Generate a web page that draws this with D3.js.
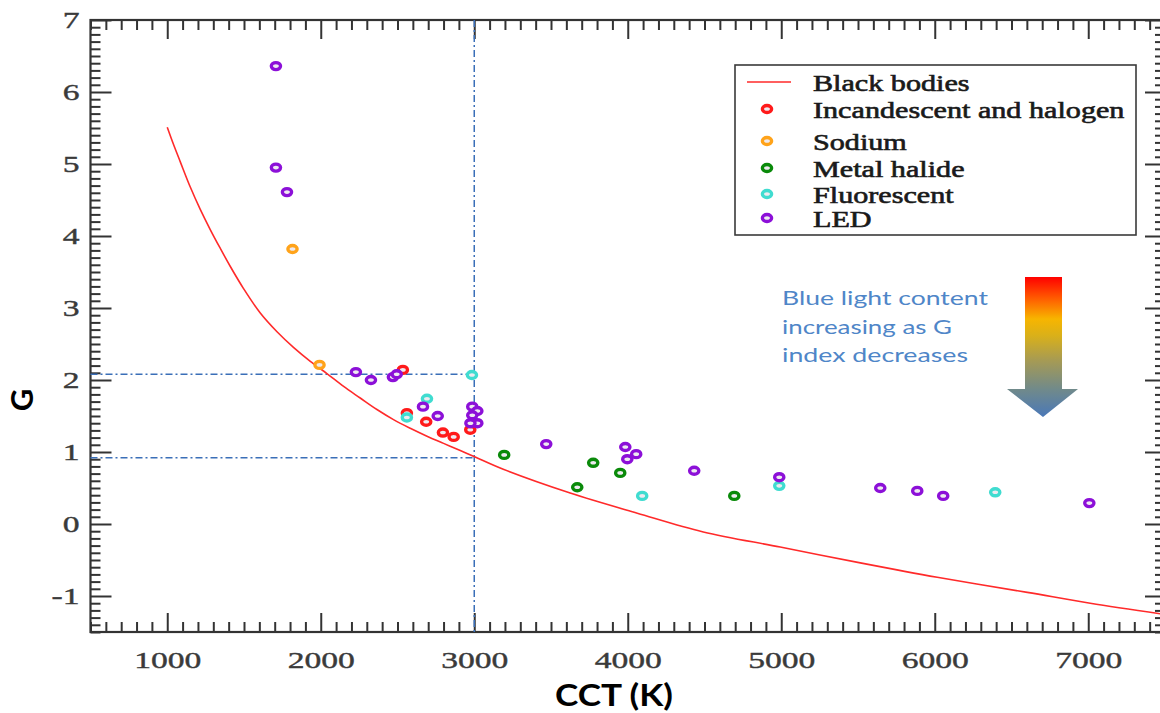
<!DOCTYPE html>
<html>
<head>
<meta charset="utf-8">
<script src="https://cdn.jsdelivr.net/npm/d3@7"></script>
<style>
  body { margin: 0; background: #fff; }
  svg { display: block; }
</style>
</head>
<body>
<svg id="chart" width="1160" height="713"></svg>
<script>
// Axis tick values
const cctTicks = [1000, 2000, 3000, 4000, 5000, 6000, 7000];
const gTicks = [-1, 0, 1, 2, 3, 4, 5, 6, 7];

// Black-body locus: CCT (K) and G index
const blackBodyCCT = [1000, 1041, 1085, 1150, 1215, 1280, 1345, 1410, 1497, 1606, 1715, 1824, 1932, 2040, 2149, 2257, 2366, 2474, 2583, 2692, 2800, 2909, 3006,
                      3189, 3625, 4062, 4492, 4993, 5515, 6016, 6603, 7013, 7480];
const blackBodyG   = [5.51, 5.27, 5.03, 4.68, 4.37, 4.09, 3.83, 3.58, 3.27, 2.93, 2.67, 2.45, 2.26, 2.09, 1.91, 1.75, 1.59, 1.45, 1.33, 1.22, 1.12, 1.02, 0.93,
                      0.76, 0.43, 0.15, -0.11, -0.32, -0.54, -0.74, -0.95, -1.10, -1.25];

// Lamp measurements: [CCT, G]
const incandescent = [[2535, 2.14], [2561, 1.54], [2687, 1.42], [2796, 1.27], [2866, 1.21], [2974, 1.31]];
const sodium = [[1816, 3.82], [1992, 2.21]];
const metalHalide = [[3195, 0.96], [3775, 0.85], [3951, 0.71], [3671, 0.51], [4694, 0.39]];
const fluorescent = [[2985, 2.07], [2692, 1.74], [2561, 1.48], [4094, 0.39], [4987, 0.53], [6394, 0.44]];
const led = [[1708, 6.36], [1708, 4.95], [1780, 4.61], [2229, 2.11], [2327, 2.00], [2470, 2.04], [2495, 2.08],
             [2666, 1.63], [2762, 1.50], [2987, 1.63], [3020, 1.57], [2987, 1.51], [3020, 1.40], [2975, 1.40],
             [3469, 1.11], [3984, 1.07], [4055, 0.97], [3997, 0.90], [4433, 0.74], [4987, 0.65],
             [5645, 0.50], [5886, 0.46], [6055, 0.39], [7007, 0.29]];

// Series names and colours
const seriesNames = ["Incandescent and halogen", "Sodium", "Metal halide", "Fluorescent", "LED"];
const seriesColors = ["#ff1a1a", "#ffa31a", "#0a8a0a", "#40dcd0", "#8c10d8"];
const seriesData = [incandescent, sodium, metalHalide, fluorescent, led];
const curveName = "Black bodies";

// Reference guides
const refCCT = 3000;
const refG = [2.08, 0.92];

const svg = d3.select("#chart");
const plotLeft = 90.5, plotRight = 1165, plotTop = 20, plotBottom = 632;

const x = d3.scaleLinear().domain([500, 7500]).range([plotLeft, plotRight]);
const y = d3.scaleLinear().domain([-1.5, 7]).range([plotBottom, plotTop]);

const serif = "'Liberation Serif', 'Times New Roman', serif";
const frameColor = "#333";

// Horizontally widen text to a given factor of its natural width
function widen(sel, k) {
  sel.each(function () {
    const w = this.getComputedTextLength();
    d3.select(this).attr("textLength", w * k).attr("lengthAdjust", "spacingAndGlyphs");
  });
}

// Minor tick positions
const xMinor = d3.range(500, 7501, 100).filter(v => v % 1000 !== 0);
const yMinor = d3.range(-15, 71, 1).map(v => v / 10).filter(v => Math.abs(v - Math.round(v)) > 1e-9);

function styleAxis(g) {
  g.select(".domain").remove();
  g.selectAll(".tick line").attr("stroke", frameColor).attr("stroke-width", 2);
  g.selectAll(".tick text")
    .attr("fill", "#3a3a3a")
    .attr("stroke", "#3a3a3a")
    .attr("stroke-width", 0.4)
    .style("font-family", serif)
    .style("font-size", "24px");
}

// Left axis
svg.append("g").attr("transform", `translate(${plotLeft},0)`)
  .call(d3.axisLeft(y).tickValues(yMinor).tickSize(-10).tickFormat(""))
  .call(styleAxis);
const yAxisG = svg.append("g").attr("transform", `translate(${plotLeft},0)`)
  .call(d3.axisLeft(y).tickValues(gTicks).tickSize(-21).tickPadding(11).tickFormat(d => String(d)))
  .call(styleAxis);
widen(yAxisG.selectAll(".tick text"), 1.4);

// Right axis
svg.append("g").attr("transform", `translate(${plotRight},0)`)
  .call(d3.axisRight(y).tickValues(yMinor).tickSize(-10).tickFormat(""))
  .call(styleAxis);
svg.append("g").attr("transform", `translate(${plotRight},0)`)
  .call(d3.axisRight(y).tickValues(gTicks).tickSize(-20).tickFormat(""))
  .call(styleAxis);

// Top axis
svg.append("g").attr("transform", `translate(0,${plotTop})`)
  .call(d3.axisTop(x).tickValues(xMinor).tickSize(-10).tickFormat(""))
  .call(styleAxis);
svg.append("g").attr("transform", `translate(0,${plotTop})`)
  .call(d3.axisTop(x).tickValues(cctTicks).tickSize(-19).tickFormat(""))
  .call(styleAxis);

// Bottom axis
svg.append("g").attr("transform", `translate(0,${plotBottom})`)
  .call(d3.axisBottom(x).tickValues(xMinor).tickSize(-10).tickFormat(""))
  .call(styleAxis);
const xAxisG = svg.append("g").attr("transform", `translate(0,${plotBottom})`)
  .call(d3.axisBottom(x).tickValues(cctTicks).tickSize(-19).tickPadding(19).tickFormat(d => String(d)))
  .call(styleAxis);
widen(xAxisG.selectAll(".tick text"), 1.4);

// Frame
svg.append("rect")
  .attr("x", plotLeft).attr("y", plotTop)
  .attr("width", plotRight - plotLeft).attr("height", plotBottom - plotTop)
  .attr("fill", "none").attr("stroke", frameColor).attr("stroke-width", 2.2);

// Dashed reference lines at 3000 K
const guide = svg.append("g")
  .attr("stroke", "#3a6fb8").attr("stroke-width", 1.5)
  .attr("stroke-dasharray", "7,3,2,3").attr("fill", "none");
guide.append("line")
  .attr("x1", x(refCCT)).attr("x2", x(refCCT))
  .attr("y1", plotTop).attr("y2", plotBottom);
refG.forEach(g => {
  guide.append("line")
    .attr("x1", plotLeft).attr("x2", x(refCCT))
    .attr("y1", y(g)).attr("y2", y(g));
});

// Black-body curve
const locus = blackBodyCCT.map((c, i) => [c, blackBodyG[i]]);
svg.append("path")
  .datum(locus)
  .attr("fill", "none")
  .attr("stroke", "#ff2a2a")
  .attr("stroke-width", 1.6)
  .attr("d", d3.line().x(d => x(d[0])).y(d => y(d[1])).curve(d3.curveCatmullRom));

// Lamp markers
function marker(sel, color) {
  sel.attr("rx", 4.6).attr("ry", 3.5)
    .attr("fill", "#eeeaf0")
    .attr("stroke", color)
    .attr("stroke-width", 3.4);
}
seriesData.forEach((data, i) => {
  svg.append("g").selectAll("ellipse")
    .data(data)
    .join("ellipse")
    .attr("cx", d => x(d[0]))
    .attr("cy", d => y(d[1]))
    .call(marker, seriesColors[i]);
});

// Legend
const legend = svg.append("g");
legend.append("rect")
  .attr("x", 735).attr("y", 65).attr("width", 401).attr("height", 170)
  .attr("fill", "#fff").attr("stroke", "#3a3a3a").attr("stroke-width", 1.6);
const rowBase = [91, 118, 150, 177, 203, 227];
legend.append("line")
  .attr("x1", 747).attr("x2", 791)
  .attr("y1", rowBase[0] - 9).attr("y2", rowBase[0] - 9)
  .attr("stroke", "#ff2a2a").attr("stroke-width", 1.6);
seriesNames.forEach((name, i) => {
  legend.append("ellipse")
    .attr("cx", 767).attr("cy", rowBase[i + 1] - 9)
    .call(marker, seriesColors[i]);
});
const legendTexts = legend.selectAll("text.lbl")
  .data([curveName, ...seriesNames])
  .join("text")
  .attr("class", "lbl")
  .attr("x", 813)
  .attr("y", (d, i) => rowBase[i])
  .attr("fill", "#1a1a1a")
  .attr("stroke", "#1a1a1a")
  .attr("stroke-width", 0.6)
  .style("font-family", serif)
  .style("font-size", "22.5px")
  .text(d => d);
widen(legendTexts, 1.34);

// Annotation: blue-light arrow
const defs = svg.append("defs");
const grad = defs.append("linearGradient")
  .attr("id", "arrowGrad").attr("x1", 0).attr("y1", 0).attr("x2", 0).attr("y2", 1);
[[0, "#ff0000"], [0.15, "#ff5a00"], [0.3, "#f7b500"], [0.42, "#d9b01a"], [0.6, "#a59a55"], [0.8, "#718a8a"], [1, "#4a78b8"]]
  .forEach(([o, c]) => grad.append("stop").attr("offset", o).attr("stop-color", c));
svg.append("path")
  .attr("d", "M1025,277 L1062,277 L1062,389 L1078,389 L1043,417 L1007,389 L1025,389 Z")
  .attr("fill", "url(#arrowGrad)");

const noteLines = ["Blue light content", "increasing as G", "index decreases"];
const noteWidths = [206, 170, 186];
svg.append("g").selectAll("text")
  .data(noteLines)
  .join("text")
  .attr("x", 782)
  .attr("y", (d, i) => 305 + i * 28.5)
  .attr("fill", "#4f86c8")
  .style("font-family", "Lato, 'Open Sans', sans-serif")
  .style("font-size", "20px")
  .attr("textLength", (d, i) => noteWidths[i])
  .attr("lengthAdjust", "spacingAndGlyphs")
  .text(d => d);

// Axis titles
svg.append("text")
  .attr("x", 614).attr("y", 706)
  .attr("text-anchor", "middle")
  .attr("fill", "#000")
  .style("font-family", "Lato, 'Open Sans', sans-serif")
  .style("font-weight", "bold")
  .style("font-size", "30px")
  .attr("textLength", 118).attr("lengthAdjust", "spacingAndGlyphs")
  .text("CCT (K)");
svg.append("text")
  .attr("transform", "translate(33,400) rotate(-90)")
  .attr("text-anchor", "middle")
  .attr("fill", "#000")
  .style("font-family", "Lato, 'Open Sans', sans-serif")
  .style("font-weight", "bold")
  .style("font-size", "31px")
  .text("G");
</script>
</body>
</html>
